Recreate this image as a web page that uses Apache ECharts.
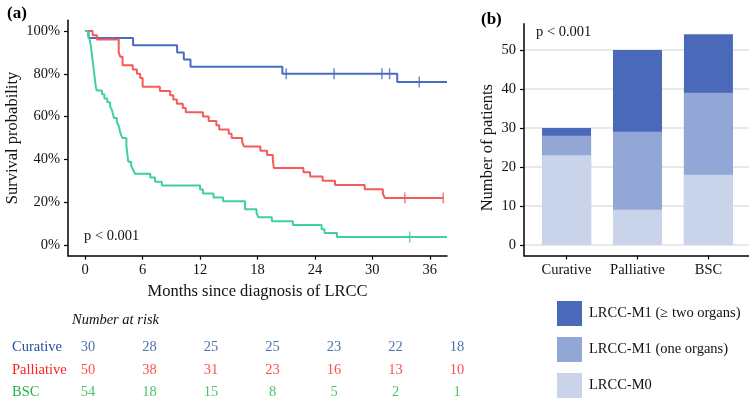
<!DOCTYPE html>
<html>
<head>
<meta charset="utf-8">
<script src="https://cdn.jsdelivr.net/npm/echarts@6/dist/echarts.min.js"></script>
<style>
html,body{margin:0;padding:0;background:#fff}
#main{width:749px;height:400px}
</style>
</head>
<body>
<div id="main"></div>
<script>
// Kaplan-Meier steps: [month, survival]
var curative = [[0,1],[0.35,0.967],[5.0,0.933],[9.6,0.9],[10.3,0.867],[11.0,0.833],[20.6,0.8],[32.6,0.762],[37.8,0.762]];
var curativeCensor = [[21.0,0.8],[26.0,0.8],[31.0,0.8],[31.8,0.8],[34.9,0.762]];

var palliative = [[0,1],[0.77,0.98],[1.22,0.96],[3.5,0.9],[3.65,0.88],[3.9,0.84],[4.97,0.82],[5.4,0.8],[5.74,0.78],
    [6.0,0.74],[7.8,0.72],[8.87,0.7],[9.2,0.68],[9.57,0.66],[10.2,0.64],[10.5,0.62],[12.3,0.6],[12.9,0.58],
    [13.7,0.56],[14.0,0.54],[15.0,0.52],[15.3,0.5],[16.4,0.48],[16.6,0.46],[18.3,0.44],[19.0,0.42],[19.6,0.4],
    [19.65,0.38],[19.7,0.36],[22.8,0.34],[23.5,0.32],[24.8,0.3],[26.1,0.28],[29.2,0.26],[31.1,0.24],[31.3,0.22],[37.4,0.22]];
var palliativeCensor = [[33.4,0.22],[37.4,0.22]];

var bsc = [[0,1],[0.3,0.981],[0.45,0.963],[0.6,0.926],[0.7,0.889],[0.8,0.852],[0.9,0.815],[1.0,0.778],[1.1,0.741],
    [1.2,0.722],[1.75,0.704],[2.0,0.685],[2.3,0.667],[2.6,0.648],[2.8,0.63],[3.0,0.593],[3.3,0.574],[3.5,0.556],
    [3.7,0.519],[3.9,0.5],[4.3,0.463],[4.4,0.426],[4.5,0.389],[4.8,0.37],[5.0,0.352],[5.2,0.333],[6.8,0.315],
    [7.3,0.296],[8.0,0.278],[12.0,0.259],[12.3,0.241],[13.4,0.222],[14.4,0.204],[16.7,0.167],[17.9,0.148],
    [18.1,0.13],[19.5,0.111],[21.7,0.093],[24.7,0.074],[25.0,0.056],[26.3,0.037],[37.8,0.037]];
var bscCensor = [[33.9,0.037]];

var monthTicks = [0,6,12,18,24,30,36];
var survTicks = [0,0.2,0.4,0.6,0.8,1];

// number at risk
var riskGroups = ['Curative','Palliative','BSC'];
var riskCurative = [30,28,25,25,23,22,18];
var riskPalliative = [50,38,31,23,16,13,10];
var riskBSC = [54,18,15,8,5,2,1];

// stacked bars
var barGroups = ['Curative','Palliative','BSC'];
var m0 = [23,9,18];
var m1One = [5,20,21];
var m1Two = [2,21,15];
var countTicks = [0,10,20,30,40,50];

var FONT = 'Liberation Serif';
var lineColors = ['#4a6cc0','#f55a5a','#3fd09e'];
var riskColors = ['#1f4e9d','#ff1f1f','#22b04a'];
var barColors = ['#c9d4ea','#93a7d7','#4a69b8'];

var chart = echarts.init(document.getElementById('main'));

function riskSeries(vals, name, color) {
    return {
        type: 'scatter', name: name, xAxisIndex: 1, yAxisIndex: 1,
        symbolSize: 1, itemStyle: {color: 'rgba(0,0,0,0)'},
        data: monthTicks.map(function (t, i) { return [t, name, vals[i]]; }),
        label: {show: true, position: 'inside', formatter: function (p) { return p.value[2]; },
            color: color, fontFamily: FONT, fontSize: 14.5},
        silent: true
    };
}

// bars overlap (barGap -100%), each one reaches its cumulative top
function cumulative(parts) {
    return barGroups.map(function (g, i) {
        return parts.reduce(function (s, arr) { return s + arr[i]; }, 0);
    });
}
function barSeries(vals, name, color) {
    return {
        type: 'bar', name: name, xAxisIndex: 2, yAxisIndex: 2,
        barWidth: 49, barGap: '-100%', itemStyle: {color: color},
        data: vals.map(function (v, i) { return [i + 1, v]; })
    };
}

function kmSeries(data, name, color) {
    return {type: 'line', name: name, step: 'end', showSymbol: false, data: data,
        lineStyle: {color: color, width: 2}, itemStyle: {color: color}, clip: true, silent: true};
}
function censorSeries(data, name, color) {
    return {type: 'scatter', name: name + ' censor', symbol: 'rect', symbolSize: [1.5, 11],
        itemStyle: {color: color}, data: data, silent: true};
}

var axisBlack = {show: true, onZero: false, lineStyle: {color: '#000', width: 1.5}};
var tickBlack = {show: true, length: 4, lineStyle: {color: '#000', width: 1.2}};

chart.setOption({
    animation: false,
    grid: [
        {left: 68, top: 20.3, width: 379, height: 235.4, containLabel: false, outerBoundsMode: 'none'},
        {left: 88, top: 336, width: 369, height: 68, containLabel: false, outerBoundsMode: 'none'},
        {left: 524, top: 23.8, right: -2, height: 231.7, containLabel: false, outerBoundsMode: 'none'}
    ],
    xAxis: [
        {type: 'value', gridIndex: 0, min: -1.8, max: 37.8, axisLine: axisBlack,
            axisTick: Object.assign({customValues: monthTicks}, tickBlack),
            axisLabel: {customValues: monthTicks, margin: 7, color: '#111', fontFamily: FONT, fontSize: 14.5},
            splitLine: {show: false},
            name: 'Months since diagnosis of LRCC', nameLocation: 'middle', nameGap: 27, nameMoveOverlap: false,
            nameTextStyle: {color: '#111', fontFamily: FONT, fontSize: 16.5}},
        {type: 'value', gridIndex: 1, min: 0, max: 36, show: false},
        {type: 'value', gridIndex: 2, min: 0.4, max: 3.6, axisLine: axisBlack,
            axisTick: Object.assign({customValues: [1,2,3]}, tickBlack),
            axisLabel: {customValues: [1,2,3], margin: 7, color: '#111', fontFamily: FONT, fontSize: 14.5,
                formatter: function (v) { return barGroups[Math.round(v) - 1]; }},
            splitLine: {show: false}}
    ],
    yAxis: [
        {type: 'value', gridIndex: 0, min: -0.05, max: 1.05, axisLine: axisBlack,
            axisTick: Object.assign({customValues: survTicks}, tickBlack),
            axisLabel: {customValues: survTicks, margin: 8, color: '#111', fontFamily: FONT, fontSize: 14.5,
                formatter: function (v) { return Math.round(v * 100) + '%'; }},
            splitLine: {show: false},
            name: 'Survival probability', nameLocation: 'middle', nameGap: 47, nameMoveOverlap: false,
            nameTextStyle: {color: '#111', fontFamily: FONT, fontSize: 16.5}},
        {type: 'category', gridIndex: 1, data: riskGroups, inverse: true,
            axisLine: {show: false}, axisTick: {show: false},
            axisLabel: {align: 'left', margin: 76, fontFamily: FONT, fontSize: 14.5,
                color: function (v) { return riskColors[riskGroups.indexOf(v)]; }}},
        {type: 'value', gridIndex: 2, min: -2.7, max: 56.7, axisLine: axisBlack,
            axisTick: Object.assign({customValues: countTicks}, tickBlack),
            axisLabel: {customValues: countTicks, margin: 8, color: '#111', fontFamily: FONT, fontSize: 14.5},
            splitLine: {show: true, lineStyle: {color: '#e2e2e2', width: 1.5}},
            name: 'Number of patients', nameLocation: 'middle', nameGap: 28, nameMoveOverlap: false,
            nameTextStyle: {color: '#111', fontFamily: FONT, fontSize: 16.5, padding: [0, 16, 0, 0]}}
    ],
    legend: {
        data: ['LRCC-M1 (\u2265 two organs)', 'LRCC-M1 (one organs)', 'LRCC-M0'],
        orient: 'vertical', left: 557, top: 301, padding: 0, itemWidth: 25, itemHeight: 25, itemGap: 11,
        icon: 'rect', selectedMode: false,
        textStyle: {color: '#111', fontFamily: FONT, fontSize: 14.5, padding: [0, 0, 0, 2]}
    },
    graphic: [
        {type: 'text', left: 7, top: 5, style: {text: '(a)', font: 'bold 17px "Liberation Serif"', fill: '#000'}},
        {type: 'text', left: 481, top: 11, style: {text: '(b)', font: 'bold 17px "Liberation Serif"', fill: '#000'}},
        {type: 'text', left: 84, top: 229, style: {text: 'p < 0.001', font: '14.5px "Liberation Serif"', fill: '#111'}},
        {type: 'text', left: 536, top: 25, style: {text: 'p < 0.001', font: '14.5px "Liberation Serif"', fill: '#111'}},
        {type: 'text', left: 72, top: 313, style: {text: 'Number at risk', font: 'italic 14.5px "Liberation Serif"', fill: '#111'}}
    ],
    series: [
        kmSeries(curative, 'Curative', lineColors[0]),
        kmSeries(palliative, 'Palliative', lineColors[1]),
        kmSeries(bsc, 'BSC', lineColors[2]),
        censorSeries(curativeCensor, 'Curative', lineColors[0]),
        censorSeries(palliativeCensor, 'Palliative', lineColors[1]),
        censorSeries(bscCensor, 'BSC', lineColors[2]),
        riskSeries(riskCurative, 'Curative', riskColors[0]),
        riskSeries(riskPalliative, 'Palliative', riskColors[1]),
        riskSeries(riskBSC, 'BSC', riskColors[2]),
        barSeries(cumulative([m0, m1One, m1Two]), 'LRCC-M1 (\u2265 two organs)', barColors[2]),
        barSeries(cumulative([m0, m1One]), 'LRCC-M1 (one organs)', barColors[1]),
        barSeries(cumulative([m0]), 'LRCC-M0', barColors[0])
    ]
});
</script>
</body>
</html>
